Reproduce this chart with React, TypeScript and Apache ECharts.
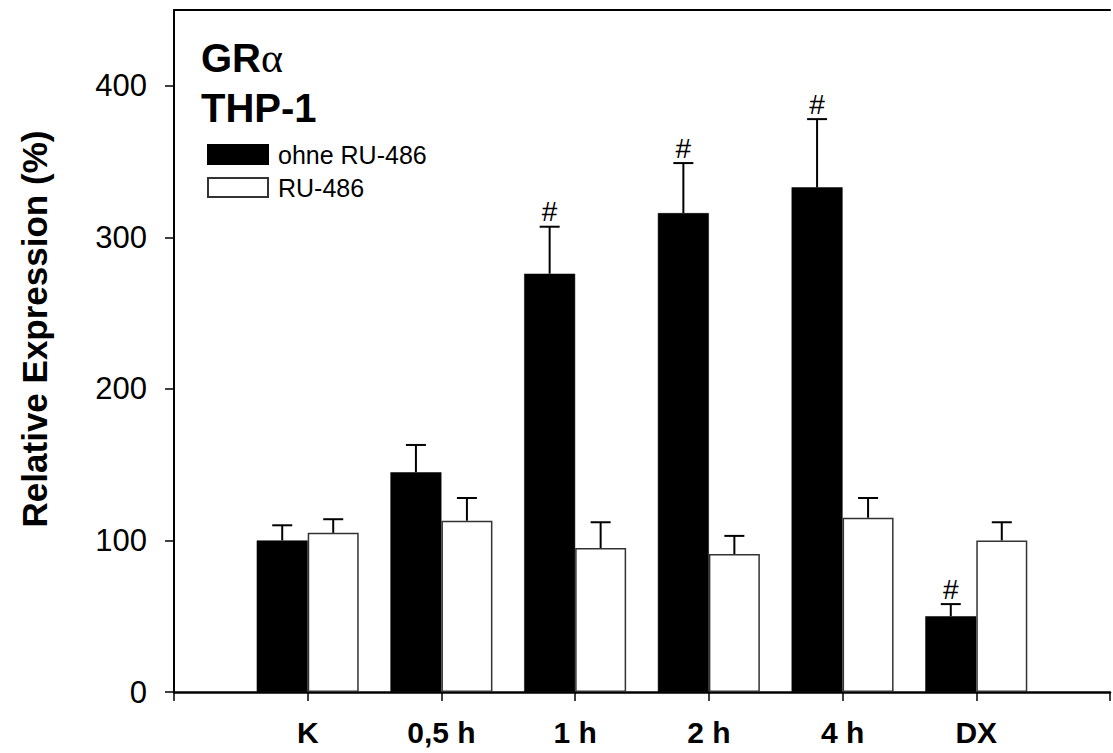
import React, { useEffect, useRef } from "react";
import * as echarts from "echarts";

const categories = ["K", "0,5 h", "1 h", "2 h", "4 h", "DX"];
const ohneValues = [100, 145, 276, 316, 333, 50];
const ohneErrors = [10, 18, 31, 33, 45, 8];
const ruValues = [105, 113, 95, 91, 115, 100];
const ruErrors = [9, 15, 17, 12, 13, 12];
const ohneSignificant = [false, false, true, true, true, true];
const yTicks = [0, 100, 200, 300, 400];

const seriesNames = ["ohne RU-486", "RU-486"];

export default function App() {
  const ref = useRef<HTMLDivElement>(null);

  useEffect(() => {
    if (!ref.current) return;
    const chart = echarts.init(ref.current, undefined, { renderer: "svg" });

    // pad the category axis with blank slots on both sides
    const axisCats = ["", ...categories, ""];
    const pad = (arr: any[]) => ["-", ...arr, "-"];

    const errData = (vals: number[], errs: number[], sig?: boolean[]) =>
      vals.map((v, i) => [i + 1, v, errs[i], sig && sig[i] ? 1 : 0]);

    const BAR_W = 51;

    const makeErrRender = (offset: number) => (params: any, api: any) => {
      const idx = api.value(0);
      const v = api.value(1);
      const e = api.value(2);
      const s = api.value(3);
      const base = api.coord([idx, v]);
      const top = api.coord([idx, v + e]);
      const x = base[0] + offset;
      const children: any[] = [
        {
          type: "line",
          shape: { x1: x, y1: base[1], x2: x, y2: top[1] },
          style: { stroke: "#000", lineWidth: 2 },
        },
        {
          type: "line",
          shape: { x1: x - 10, y1: top[1], x2: x + 10, y2: top[1] },
          style: { stroke: "#000", lineWidth: 2 },
        },
      ];
      if (s) {
        children.push({
          type: "text",
          x: x,
          y: top[1] - 15,
          style: {
            text: "#",
            fontSize: 28,
            fontFamily: "Liberation Sans, Arial, sans-serif",
            fill: "#000",
            align: "center",
            verticalAlign: "middle",
          },
        });
      }
      return { type: "group", children };
    };

    const fontFam = "Liberation Sans, Arial, sans-serif";

    chart.setOption({
      animation: false,
      backgroundColor: "#fff",
      grid: { left: 174, top: 10, bottom: 61, width: 945, containLabel: false },
      legend: {
        orient: "vertical",
        left: 202,
        top: 137,
        itemWidth: 60,
        itemHeight: 19,
        itemGap: 8,
        icon: "rect",
        selectedMode: false,
        data: seriesNames,
        textStyle: {
          fontSize: 25,
          lineHeight: 25,
          fontFamily: fontFam,
          color: "#000",
          padding: [0, 0, 0, 5],
        },
      },
      xAxis: [
        {
          type: "category",
          data: axisCats,
          boundaryGap: false,
          axisLine: { lineStyle: { color: "#000", width: 2.5 } },
          axisTick: { show: true, length: 9, lineStyle: { color: "#000", width: 1.5 } },
          axisLabel: {
            interval: 0,
            margin: 25,
            fontSize: 30,
            fontWeight: "bold",
            fontFamily: fontFam,
            color: "#000",
          },
          splitLine: { show: false },
        },
        {
          type: "category",
          data: axisCats,
          position: "top",
          boundaryGap: false,
          axisLine: { show: true, lineStyle: { color: "#000", width: 2 } },
          axisTick: { show: false },
          axisLabel: { show: false },
          splitLine: { show: false },
        },
      ],
      yAxis: {
        type: "value",
        min: 0,
        max: 450,
        interval: 100,
        axisLine: { show: true, lineStyle: { color: "#000", width: 2 } },
        axisTick: {
          show: true,
          length: 9,
          customValues: yTicks,
          lineStyle: { color: "#000", width: 1.5 },
        },
        axisLabel: {
          customValues: yTicks,
          margin: 27,
          fontSize: 31,
          fontFamily: fontFam,
          color: "#000",
        },
        splitLine: { show: false },
      },
      graphic: [
        {
          type: "text",
          x: 34,
          y: 329,
          rotation: Math.PI / 2,
          style: {
            text: "Relative Expression (%)",
            fontSize: 35,
            fontWeight: "bold",
            fontFamily: fontFam,
            fill: "#000",
            align: "center",
            verticalAlign: "middle",
          },
        },
        {
          type: "text",
          x: 201,
          y: 58,
          style: {
            text: "{b|GR}{a|α}",
            verticalAlign: "middle",
            rich: {
              b: { fontSize: 40, fontWeight: "bold", fontFamily: fontFam, fill: "#000" },
              a: { fontSize: 42, fontFamily: "Liberation Serif, Times New Roman, serif", fill: "#000" },
            },
          },
        },
        {
          type: "text",
          x: 201,
          y: 108,
          style: {
            text: "THP-1",
            fontSize: 40,
            fontWeight: "bold",
            fontFamily: fontFam,
            fill: "#000",
            verticalAlign: "middle",
          },
        },
      ],
      series: [
        {
          name: seriesNames[0],
          type: "bar",
          barWidth: BAR_W,
          barGap: "0%",
          data: pad(ohneValues),
          itemStyle: { color: "#000", borderColor: "#000", borderWidth: 0.5 },
        },
        {
          name: seriesNames[1],
          type: "bar",
          barWidth: BAR_W,
          barGap: "0%",
          data: pad(ruValues),
          itemStyle: { color: "#fff", borderColor: "#333", borderWidth: 1.5 },
        },
        {
          type: "custom",
          renderItem: makeErrRender(-BAR_W / 2),
          data: errData(ohneValues, ohneErrors, ohneSignificant),
          z: 5,
          silent: true,
        },
        {
          type: "custom",
          renderItem: makeErrRender(BAR_W / 2),
          data: errData(ruValues, ruErrors),
          z: 5,
          silent: true,
        },
      ],
    });

    return () => chart.dispose();
  }, []);

  return <div ref={ref} style={{ width: 1113, height: 753, position: "absolute", left: 0, top: 0 }} />;
}
